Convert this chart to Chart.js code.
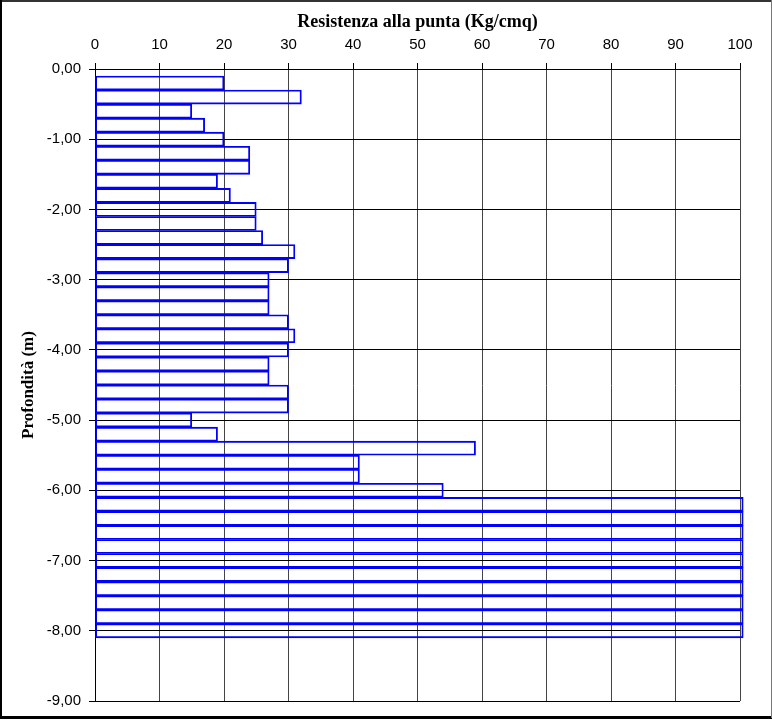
<!DOCTYPE html>
<html>
<head>
<meta charset="utf-8">
<script src="https://cdn.jsdelivr.net/npm/chart.js@4"></script>
<style>
  body { margin: 0; background: #fff; }
  #container-canva { width: 772px; height: 720px; }
</style>
</head>
<body>
<div id="container-canva"><canvas id="penetrometrica" width="772" height="720"></canvas></div>
<script>
// profondità (m) al centro di ogni tratto da 20 cm
const profondita = [
  -0.2, -0.4, -0.6, -0.8, -1.0, -1.2, -1.4, -1.6, -1.8, -2.0,
  -2.2, -2.4, -2.6, -2.8, -3.0, -3.2, -3.4, -3.6, -3.8, -4.0,
  -4.2, -4.4, -4.6, -4.8, -5.0, -5.2, -5.4, -5.6, -5.8, -6.0,
  -6.2, -6.4, -6.6, -6.8, -7.0, -7.2, -7.4, -7.6, -7.8, -8.0
];

// resistenza alla punta (Kg/cmq)
const resistenza = [
  20, 32, 15, 17, 20, 24, 24, 19, 21, 25,
  25, 26, 31, 30, 27, 27, 27, 30, 31, 30,
  27, 27, 30, 30, 15, 19, 59, 41, 41, 54,
  100.5, 100.5, 100.5, 100.5, 100.5, 100.5, 100.5, 100.5, 100.5, 100.5
];

const tickX = [0, 10, 20, 30, 40, 50, 60, 70, 80, 90, 100];
const tickY = [0, -1, -2, -3, -4, -5, -6, -7, -8, -9];

const titoloX = 'Resistenza alla punta (Kg/cmq)';
const titoloY = 'Profondità (m)';

// cornice esterna del grafico
const cornice = {
  id: 'cornice',
  afterDraw(chart) {
    const c = chart.ctx;
    c.save();
    c.fillStyle = '#333';
    c.fillRect(0, 0, 772, 2);
    c.fillStyle = '#000';
    c.fillRect(0, 0, 2, 718);
    c.fillRect(0, 716, 772, 3);
    c.fillStyle = '#777';
    c.fillRect(771, 0, 1, 718);
    c.restore();
  }
};

let data = profondita.map((p, i) => ({ x: resistenza[i], y: p }));

let ctx = document.getElementById("penetrometrica").getContext("2d");
let grafico = new Chart(ctx, {
  type: 'bar',
  data: {
    datasets: [{
      label: 'Resistenza',
      data: data,
      backgroundColor: 'rgba(0,0,0,0)',
      borderColor: '#0000ff',
      borderWidth: 1.2,
      borderSkipped: false,
      barPercentage: 1,
      categoryPercentage: 1,
      clip: false
    }]
  },
  plugins: [cornice],
  options: {
    indexAxis: 'y',
    responsive: false,
    animation: false,
    layout: { padding: { top: 0, left: 0, right: 32, bottom: 19 } },
    plugins: {
      legend: { display: false },
      tooltip: { enabled: false }
    },
    scales: {
      x: {
        type: 'linear',
        position: 'top',
        min: 0,
        max: 100,
        afterBuildTicks: s => { s.ticks = tickX.map(v => ({ value: v })); },
        afterFit: s => { s.height = 69; },
        ticks: {
          color: '#000',
          padding: 9,
          maxRotation: 0,
          font: { family: 'Liberation Sans', size: 15 }
        },
        grid: { color: '#444', tickColor: '#000', tickLength: 6, lineWidth: 1 },
        border: { color: '#000', width: 1 },
        title: {
          display: true,
          text: titoloX,
          color: '#000',
          padding: { top: 12, bottom: 0 },
          font: { family: 'Liberation Serif', size: 18, weight: 'bold' }
        }
      },
      y: {
        type: 'linear',
        min: -9,
        max: 0,
        offset: false,
        afterBuildTicks: s => { s.ticks = tickY.map(v => ({ value: v })); },
        afterFit: s => { s.width = 95; },
        ticks: {
          color: '#000',
          padding: 8,
          font: { family: 'Liberation Sans', size: 15 },
          callback: v => (v === 0 ? 0 : v).toFixed(2).replace('.', ',')
        },
        grid: { offset: false, color: '#000', tickColor: '#000', tickLength: 6, lineWidth: 1 },
        border: { color: '#000', width: 1 },
        title: {
          display: true,
          text: titoloY,
          color: '#000',
          padding: { top: 18, bottom: 0 },
          font: { family: 'Liberation Serif', size: 17, weight: 'bold' }
        }
      }
    }
  }
});
</script>
</body>
</html>
